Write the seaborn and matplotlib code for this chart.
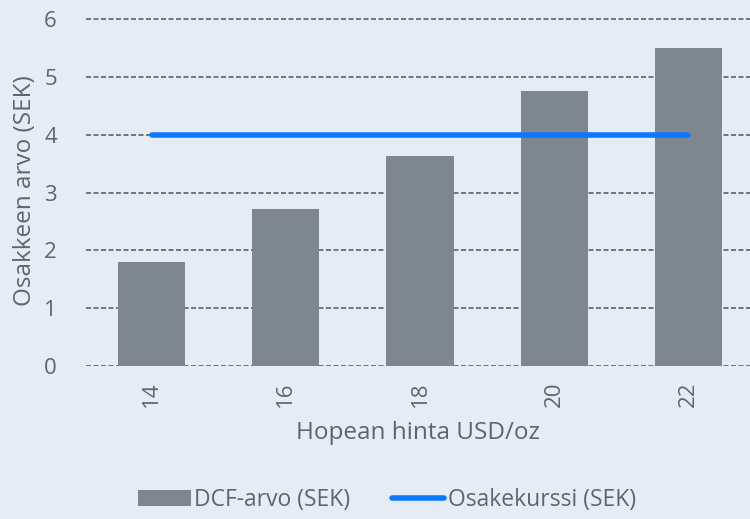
import matplotlib
matplotlib.use('Agg')
import matplotlib.pyplot as plt
import seaborn as sns
import pandas as pd

# data
prices = ['14', '16', '18', '20', '22']
dcf_value = [1.80, 2.72, 3.63, 4.76, 5.50]
share_price = [4.0, 4.0, 4.0, 4.0, 4.0]

bg = '#e5ecf5'
txt = '#5d6570'
fs = 17.5

sns.set_style('white')
plt.rcParams['font.family'] = ['Open Sans', 'DejaVu Sans']

df = pd.DataFrame({'hinta': prices, 'dcf': dcf_value, 'kurssi': share_price})

fig = plt.figure(figsize=(7.5, 5.19), dpi=100, facecolor=bg)
ax = fig.add_axes([0.1147, 0.2948, 0.8853, 0.674])
ax.set_facecolor(bg)

sns.barplot(data=df, x='hinta', y='dcf', color='#7e878d', width=0.5,
            saturation=1, ax=ax, label='DCF-arvo (SEK)', zorder=2,
            edgecolor='none', linewidth=0)
sns.lineplot(data=df, x='hinta', y='kurssi', color='#0a78ff', linewidth=4,
             solid_capstyle='round', ax=ax, label='Osakekurssi (SEK)', zorder=3)

ax.set_xlim(-0.49, 4.46)
ax.set_ylim(0, 6.05)
ax.set_yticks(range(0, 7))
for s in ax.spines.values():
    s.set_visible(False)
ax.grid(axis='y', linestyle=(0, (3, 1.5)), color='#5a6068', linewidth=1.2, zorder=0)
ax.set_axisbelow(True)

ax.tick_params(axis='both', length=0, labelsize=16, labelcolor=txt)
ax.tick_params(axis='y', pad=21)
ax.tick_params(axis='x', pad=11)
plt.setp(ax.get_xticklabels(), rotation=90)

ax.set_xlabel('Hopean hinta USD/oz', fontsize=fs, color=txt, labelpad=10)
ax.set_ylabel('Osakkeen arvo (SEK)', fontsize=fs, color=txt, labelpad=5)

handles, labels = ax.get_legend_handles_labels()
order = [labels.index('DCF-arvo (SEK)'), labels.index('Osakekurssi (SEK)')]
if ax.get_legend():
    ax.get_legend().remove()
fig.legend([handles[i] for i in order], [labels[i] for i in order],
           loc='center', bbox_to_anchor=(0.516, 0.036), ncol=2,
           frameon=False, fontsize=16.5, handlelength=2.3,
           handletextpad=0.15, columnspacing=1.8, labelcolor=txt,
           borderaxespad=0)

fig.savefig('out.png', dpi=100, facecolor=bg)
